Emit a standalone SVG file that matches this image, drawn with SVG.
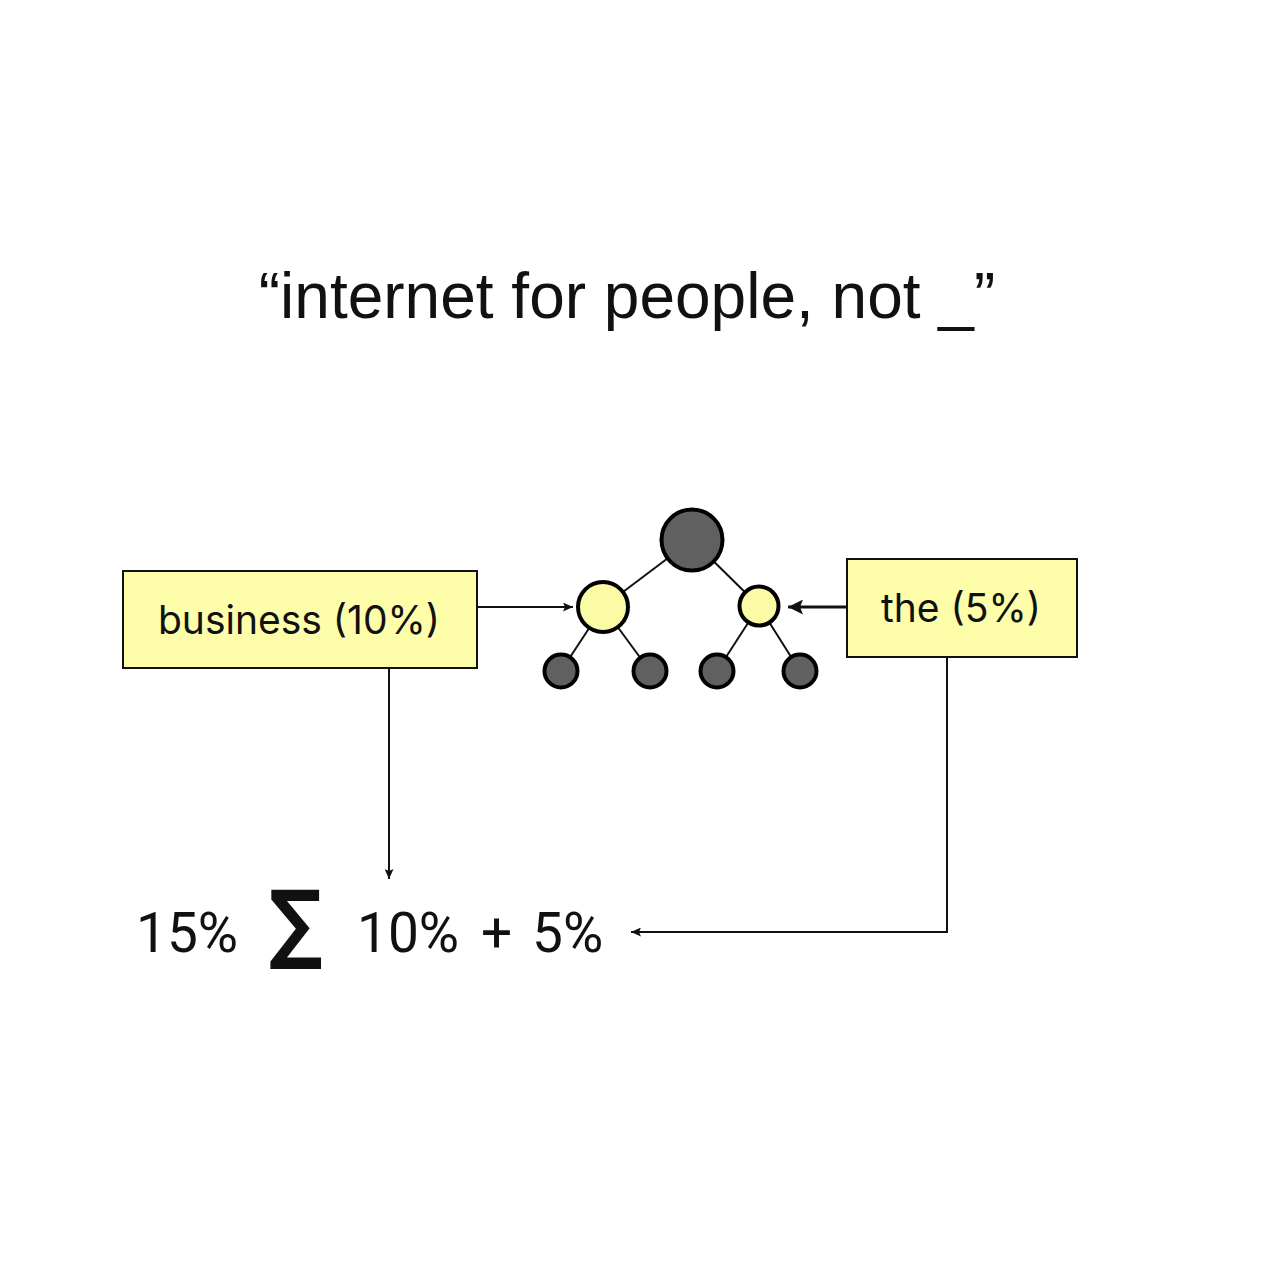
<svg xmlns="http://www.w3.org/2000/svg" width="1268" height="1268" viewBox="0 0 1268 1268">
<defs>
<style>
.box{fill:#fdfdaa;stroke:#111;stroke-width:2}
.lbl{font-family:Inter,"Noto Sans",sans-serif;font-size:39px;fill:#111;text-anchor:middle}
.conn{fill:none;stroke:#111;stroke-width:2}
.edge{stroke:#111;stroke-width:2}
.dark{fill:#606060;stroke:#000;stroke-width:4}
.yel{fill:#fbfba6;stroke:#000;stroke-width:4}
.eq{font-family:Roboto,"Liberation Sans",sans-serif;font-size:55px;fill:#111}
</style>
<marker id="ah" viewBox="0 0 10 10" refX="10" refY="5" markerWidth="10" markerHeight="9" orient="auto" markerUnits="userSpaceOnUse" preserveAspectRatio="none">
<path d="M0,0 L10,5 L0,10 L2,5 Z" fill="#111"/>
</marker>
<marker id="ahb" viewBox="0 0 10 10" refX="10" refY="5" markerWidth="15" markerHeight="15" orient="auto" markerUnits="userSpaceOnUse">
<path d="M0,0 L10,5 L0,10 L2,5 Z" fill="#111"/>
</marker>
</defs>
<rect width="1268" height="1268" fill="#fff"/>
<text x="627" y="318" font-family="'Liberation Sans',Arial,sans-serif" font-size="64" fill="#111" text-anchor="middle">“internet for people, not _”</text>

<g id="connectors">
<line class="conn" x1="477" y1="607" x2="573" y2="607" marker-end="url(#ah)"/>
<line class="conn" x1="847" y1="607" x2="788" y2="607" marker-end="url(#ahb)" style="stroke-width:3"/>
<polyline class="conn" points="389,668 389,879" marker-end="url(#ah)"/>
<polyline class="conn" points="947,657 947,932 631,932" marker-end="url(#ah)"/>
</g>

<g id="tree">
<line class="edge" x1="692" y1="540" x2="603" y2="607"/>
<line class="edge" x1="692" y1="540" x2="759" y2="606"/>
<line class="edge" x1="603" y1="607" x2="561" y2="671"/>
<line class="edge" x1="603" y1="607" x2="650" y2="671"/>
<line class="edge" x1="759" y1="606" x2="717" y2="671"/>
<line class="edge" x1="759" y1="606" x2="800" y2="671"/>
<circle class="dark" cx="692" cy="540" r="30.5"/>
<circle class="yel" cx="603" cy="607" r="25"/>
<circle class="yel" cx="759" cy="606" r="19.5"/>
<circle class="dark" cx="561" cy="671" r="16.5"/>
<circle class="dark" cx="650" cy="671" r="16.5"/>
<circle class="dark" cx="717" cy="671" r="16.5"/>
<circle class="dark" cx="800" cy="671" r="16.5"/>
</g>

<g id="business">
<rect class="box" x="123" y="571" width="354" height="97"/>
<text class="lbl" x="299" y="634">business (10%)</text>
</g>
<g id="the">
<rect class="box" x="847" y="559" width="230" height="98"/>
<text class="lbl" x="961" y="622">the (5%)</text>
</g>

<g id="equation">
<text class="eq" x="136" y="952">15%</text>
<text transform="translate(295.5,952) scale(0.86,1)" x="0" y="0" font-family="'DejaVu Sans',sans-serif" font-weight="bold" font-size="87" fill="#111" text-anchor="middle">∑</text>
<text class="eq" x="357" y="952">10%</text>
<text class="eq" x="481" y="952">+</text>
<text class="eq" x="532" y="952">5%</text>
</g>
</svg>
